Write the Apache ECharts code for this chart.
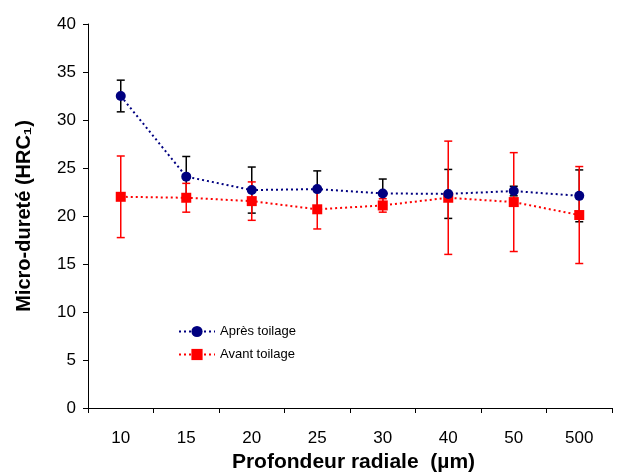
<!DOCTYPE html>
<html>
<head>
<meta charset="utf-8">
<script src="https://cdn.jsdelivr.net/npm/echarts@6/dist/echarts.min.js"></script>
<style>html,body{margin:0;padding:0;background:#fff}#c{width:621px;height:473px}</style>
</head>
<body>
<div id="c"></div>
<script>
var categories = ['10','15','20','25','30','40','50','500'];
var apres = [32.5, 24.1, 22.7, 22.8, 22.35, 22.3, 22.6, 22.1];
var apresErr = [1.65, 2.1, 2.4, 1.9, 1.5, 2.55, 0.5, 2.7];
var avant = [22.0, 21.9, 21.55, 20.7, 21.1, 21.9, 21.45, 20.1];
var avantErr = [4.25, 1.5, 2.0, 2.05, 0.7, 5.9, 5.15, 5.05];
var yTicks = [0, 5, 10, 15, 20, 25, 30, 35, 40];

function errData(vals, errs) {
  return vals.map(function (v, i) { return [i, v - errs[i], v + errs[i]]; });
}
function errRender(color) {
  return function (params, api) {
    var x = api.value(0);
    var lo = api.coord([x, api.value(1)]);
    var hi = api.coord([x, api.value(2)]);
    var w = 4;
    var st = { stroke: color, lineWidth: 1.5 };
    return {
      type: 'group',
      children: [
        { type: 'line', shape: { x1: lo[0], y1: lo[1], x2: hi[0], y2: hi[1] }, style: st },
        { type: 'line', shape: { x1: lo[0] - w, y1: lo[1], x2: lo[0] + w, y2: lo[1] }, style: st },
        { type: 'line', shape: { x1: hi[0] - w, y1: hi[1], x2: hi[0] + w, y2: hi[1] }, style: st }
      ]
    };
  };
}

var chart = echarts.init(document.getElementById('c'), null, { renderer: 'canvas' });
chart.setOption({
  animation: false,
  backgroundColor: '#fff',
  textStyle: { fontFamily: 'Liberation Sans, Arial, sans-serif' },
  grid: { left: 88, top: 24, right: 9, bottom: 65, containLabel: false, outerBoundsMode: 'none' },
  legend: {
    orient: 'vertical', left: 173, top: 320, itemGap: 10, itemWidth: 36, itemHeight: 14,
    textStyle: { fontSize: 13, color: '#000', fontFamily: 'Liberation Sans, Arial, sans-serif' },
    data: ['Après toilage', 'Avant toilage']
  },
  xAxis: {
    type: 'category', data: categories, boundaryGap: true,
    name: 'Profondeur radiale  (µm)', nameLocation: 'middle', nameGap: 43,
    nameTextStyle: { fontSize: 21, fontWeight: 'bold', color: '#000', padding: [0, 0, 0, 7] },
    axisLine: { lineStyle: { color: '#000', width: 1 } },
    axisTick: { show: true, length: 5, lineStyle: { color: '#000' } },
    axisLabel: { fontSize: 17, color: '#000', margin: 22 },
    splitLine: { show: false }
  },
  yAxis: {
    type: 'value', min: yTicks[0], max: yTicks[yTicks.length - 1], interval: 5,
    name: 'Micro-dureté (HRC₁)', nameLocation: 'middle', nameGap: 54, nameRotate: 90,
    nameTextStyle: { fontSize: 20, fontWeight: 'bold', color: '#000' },
    axisLine: { show: true, lineStyle: { color: '#000', width: 1 } },
    axisTick: { show: true, length: 5, lineStyle: { color: '#000' } },
    axisLabel: { fontSize: 17, color: '#000', margin: 12 },
    splitLine: { show: false }
  },
  series: [
    {
      type: 'custom', name: 'errApres', renderItem: errRender('#000000'),
      data: errData(apres, apresErr), encode: { x: 0, y: [1, 2] }, z: 1, silent: true
    },
    {
      type: 'custom', name: 'errAvant', renderItem: errRender('#FF0000'),
      data: errData(avant, avantErr), encode: { x: 0, y: [1, 2] }, z: 1, silent: true
    },
    {
      type: 'line', name: 'Avant toilage', data: avant, z: 3,
      symbol: 'rect', symbolSize: 10,
      itemStyle: { color: '#FF0000' },
      lineStyle: { color: '#FF0000', width: 2, type: [2, 3] }
    },
    {
      type: 'line', name: 'Après toilage', data: apres, z: 4,
      symbol: 'circle', symbolSize: 10,
      itemStyle: { color: '#000080' },
      lineStyle: { color: '#000080', width: 2, type: [2, 3] }
    }
  ]
});
</script>
</body>
</html>
